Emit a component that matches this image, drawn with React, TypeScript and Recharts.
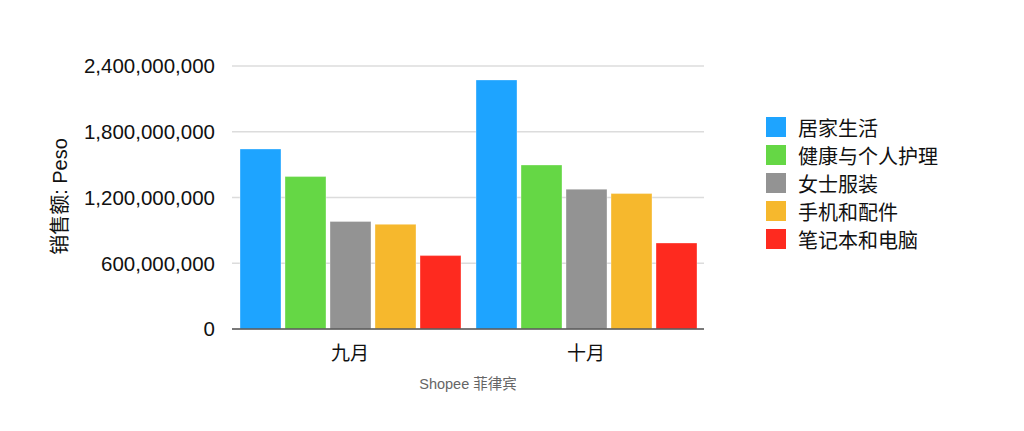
import { Bar, BarChart, CartesianGrid, Label, XAxis, YAxis } from 'recharts';

const months = ['九月', '十月'];

const homeLiving = [1643000000, 2273000000];
const healthCare = [1391000000, 1497000000];
const womenWear = [982000000, 1276000000];
const phones = [955000000, 1236000000];
const computers = [670000000, 785000000];

const yTicks = [0, 600000000, 1200000000, 1800000000, 2400000000];

const SERIES = [
    { key: 'homeLiving', name: '居家生活', color: '#1EA4FF', values: homeLiving },
    { key: 'healthCare', name: '健康与个人护理', color: '#65D745', values: healthCare },
    { key: 'womenWear', name: '女士服装', color: '#939393', values: womenWear },
    { key: 'phones', name: '手机和配件', color: '#F6B82D', values: phones },
    { key: 'computers', name: '笔记本和电脑', color: '#FE2A1F', values: computers },
];

const data = months.map((month, i) => {
    const row: Record<string, string | number> = { month };
    SERIES.forEach(s => { row[s.key] = s.values[i]; });
    return row;
});

const FONT = '"Liberation Sans", Arial, "Noto Sans CJK SC", sans-serif';

const formatNumber = (v: number) => v.toLocaleString('en-US');

// legend drawn outside the chart so it doesn't eat plot space
const SeriesLegend = () => (
    <div style={{ position: 'absolute', left: 766, top: 113, fontFamily: FONT, fontSize: 20, color: '#111' }}>
        {SERIES.map(s => (
            <div key={s.key} style={{ display: 'flex', alignItems: 'center', height: 28 }}>
                <span style={{ width: 20, height: 20, background: s.color, display: 'inline-block', marginRight: 12 }} />
                <span>{s.name}</span>
            </div>
        ))}
    </div>
);

export default function App() {
    return (
        <div style={{ position: 'absolute', left: 0, top: 0, width: 1024, height: 431, background: '#fff' }}>
            <BarChart
                width={1024}
                height={431}
                data={data}
                margin={{ top: 66, right: 320, bottom: 72, left: 0 }}
                barGap={4}
                barCategoryGap={8}
            >
                <CartesianGrid vertical={false} stroke="#dcdcdc" strokeWidth={1.5} />
                <XAxis
                    dataKey="month"
                    tickLine={false}
                    axisLine={{ stroke: '#555', strokeWidth: 1.5 }}
                    tick={{ fill: '#111', fontSize: 19, fontFamily: FONT }}
                    tickMargin={12}
                    height={30}
                >
                    <Label
                        value="Shopee 菲律宾"
                        position="bottom"
                        offset={20}
                        style={{ fill: '#666', fontSize: 14.5, fontFamily: FONT }}
                    />
                </XAxis>
                <YAxis
                    width={232}
                    domain={[0, 2400000000]}
                    ticks={yTicks}
                    tickFormatter={formatNumber}
                    axisLine={false}
                    tickLine={false}
                    tickSize={0}
                    tickMargin={17}
                    tick={{ fill: '#111', fontSize: 20.5, fontFamily: FONT }}
                >
                    <Label
                        content={({ viewBox }: any) => {
                            const cx = viewBox.x + 60;
                            const cy = viewBox.y + viewBox.height / 2 - 1;
                            return (
                                <text
                                    x={cx}
                                    y={cy}
                                    transform={`rotate(-90, ${cx}, ${cy})`}
                                    textAnchor="middle"
                                    dominantBaseline="central"
                                    fill="#111"
                                    fontSize={20}
                                    fontFamily={FONT}
                                >
                                    销售额: Peso
                                </text>
                            );
                        }}
                    />
                </YAxis>
                {SERIES.map(s => (
                    <Bar
                        key={s.key}
                        dataKey={s.key}
                        name={s.name}
                        fill={s.color}
                        stroke="rgba(255,255,255,0.35)"
                        strokeWidth={1}
                        isAnimationActive={false}
                    />
                ))}
            </BarChart>
            <SeriesLegend />
        </div>
    );
}
